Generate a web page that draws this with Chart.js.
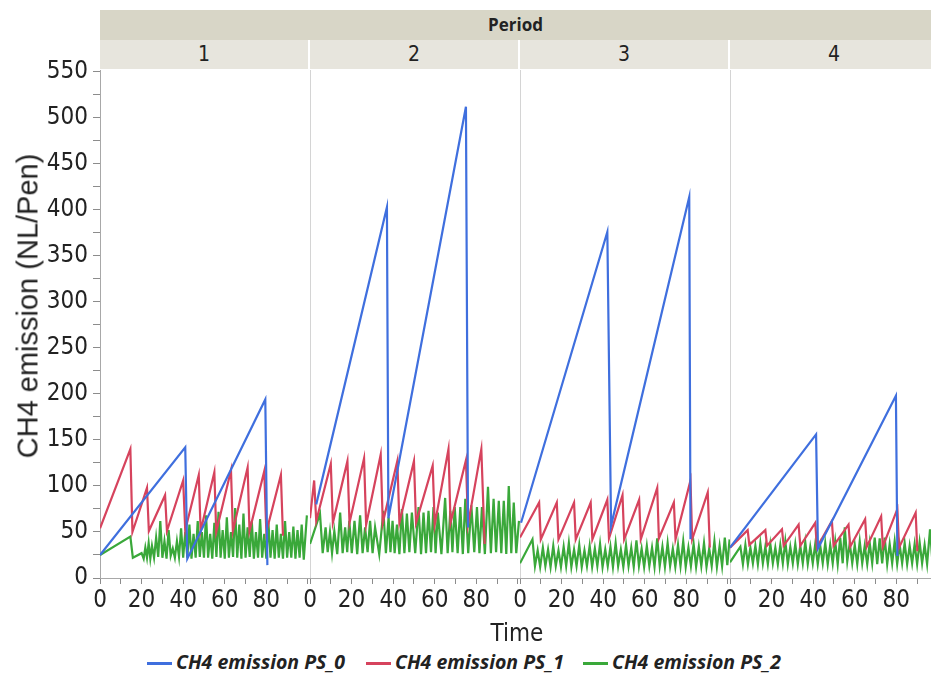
<!DOCTYPE html>
<html>
<head>
<meta charset="utf-8">
<script src="https://cdn.jsdelivr.net/npm/chart.js@4.4.0/dist/chart.umd.min.js"></script>
<style>
body { margin:0; background:#fff; }
#frame { position:relative; width:931px; height:680px; overflow:hidden; background:#fff;
  font-family:'Liberation Sans Narrow','DejaVu Sans Condensed','Liberation Sans',sans-serif; color:#222; }
canvas { position:absolute; top:40px; }
.band { position:absolute; text-align:center; }
#period { left:100px; top:10px; width:831px; height:30px; line-height:30px; background:#d8d6c7;
  font-family:'Open Sans',sans-serif; font-weight:bold; font-size:17px; color:#222; }
.cell { top:40px; height:29px; line-height:29px; width:208px; background:#e7e5dd; font-size:21px; border-right:2px solid #fff; }
.sep { position:absolute; top:70px; height:508px; width:1px; background:#d4d4d4; }
#ytitle { position:absolute; left:28px; top:306px; transform:translate(-50%,-50%) rotate(-90deg);
  white-space:nowrap; font-family:'Liberation Sans',sans-serif; font-size:29px; color:#222; }
#xtitle { position:absolute; left:517px; top:633px; transform:translate(-50%,-50%); font-size:24px; }
#legend span.item { position:absolute; top:650px; height:24px; line-height:24px; white-space:nowrap;
  font-family:'Open Sans',sans-serif; font-weight:bold; font-style:italic; font-size:19.5px; color:#222; }
#legend i { display:inline-block; width:25px; height:3px; vertical-align:middle; margin-right:4px; }
</style>
</head>
<body>
<div id="frame">
  <div id="period" class="band">Period</div>
  <div id="cells"></div>
  <div class="sep" style="left:310px"></div>
  <div class="sep" style="left:520px"></div>
  <div class="sep" style="left:730px"></div>
  <canvas id="p1" width="310" height="600" style="left:0px"></canvas>
  <canvas id="p2" width="225" height="600" style="left:295px"></canvas>
  <canvas id="p3" width="225" height="600" style="left:505px"></canvas>
  <canvas id="p4" width="225" height="600" style="left:715px"></canvas>
  <div id="ytitle">CH4 emission (NL/Pen)</div>
  <div id="xtitle">Time</div>
  <div id="legend"></div>
</div>
<script>
// panels and series
var periods = ['1', '2', '3', '4'];
var seriesNames = ['CH4 emission PS_0', 'CH4 emission PS_1', 'CH4 emission PS_2'];
var seriesColors = ['#3f6fde', '#d6435d', '#3aa83a'];
var yTickValues = [0,25,50,75,100,125,150,175,200,225,250,275,300,325,350,375,400,425,450,475,500,525,550];
var xTickValues = [0,10,20,30,40,50,60,70,80,90,100];

// [time, value] vertices, one array per period and series
var ps0_p1 = [[0,25],[41,142],[42,21],[79.5,194],[80.5,14]];
var ps1_p1 = [[0,54],[14.6,140],[15.6,50],[22.6,98],[23.5,51],[31.3,90],[32.2,51],[40,106],[41,52],[47.5,112],[48.4,51],
  [55,115],[55.9,50],[63,117],[63.9,51],[71,120],[71.9,51],[79,116],[80,50],[87,112],[88,46]];
var ps2_p1 = [[0,25],[14.6,45],[15.8,22],[20,27],[21,21],[21.8,33],[22.6,22],[23.4,38],[24.2,21],[25,35],[26,22],[27,44],
  [28,23],[29,62],[30,22],[31,40],[32,21],[33,52],[34,24],[35,32],[36,22],[37,40],[38,23],[39,54],[40,22],[41,50],[42,22],
  [43,58],[44,21],[45,48],[46,22],[47,62],[48,23],[49,50],[50,22],[51,68],[52,22],[53,48],[54,21],[55,60],[56,23],[57,72],
  [58,22],[59,52],[60,21],[61,66],[62,22],[63,50],[64,23],[65,76],[66,22],[67,58],[68,21],[69,70],[70,22],[71,55],[72,23],
  [73,62],[74,21],[75,50],[76,22],[77,64],[78,22],[79,48],[80,21],[81,60],[82,22],[83,52],[84,21],[85,58],[86,22],[87,48],
  [88,21],[89,62],[90,22],[91,50],[92,22],[93,56],[94,21],[95,52],[96,22],[97,58],[98,20],[99.5,68]];

var ps0_p2 = [[3,80],[37,403],[37.7,65],[75,512],[76,55]];
var ps1_p2 = [[0,65],[2,106],[3,62],[10,124],[11,60],[18,127],[19,60],[26,130],[27,58],[34,134],[35,60],[42,127],[43,60],
  [50,127],[51,60],[59,122],[60,58],[66.6,140],[67.6,60],[75,128],[76,58],[82.4,140],[84,37]];
var ps2_p2 = [[0,37],[4.8,70],[6.1,27],[7.5,55],[8.5,28],[9.6,50],[10.6,27],[11.7,51],[13.1,26],[14.5,71],[15.7,27],[16.9,55],
  [17.9,28],[18.9,62],[20.1,27],[21.4,62],[22.7,26],[24.1,68],[25.3,27],[26.5,55],[27.7,28],[28.9,62],[30.1,27],[31.3,55],
  [33.3,26],[35.3,73],[36.5,27],[37.8,66],[38.7,28],[39.7,62],[40.7,27],[41.8,58],[43,26],[44.2,75],[45.4,27],[46.6,70],
  [47.8,28],[49,71],[50.6,27],[52.2,77],[53.4,26],[54.6,71],[55.8,27],[57,73],[58.2,28],[59.4,77],[60.4,27],[61.5,71],
  [63.2,26],[65,87],[66.2,27],[67.5,73],[68.5,28],[69.6,77],[71,27],[72.3,77],[73.5,26],[74.7,86],[76.1,27],[77.6,79],
  [79,28],[80.3,77],[81.5,27],[82.7,77],[84.1,26],[85.6,99],[87,27],[88.3,86],[89.5,28],[90.8,84],[92,27],[93.2,84],
  [94.4,26],[95.6,100],[96.8,27],[98,82],[99.2,27],[100.5,62]];

var ps0_p3 = [[0.5,60],[42,376],[43.8,57],[81.4,414],[82,42]];
var ps1_p3 = [[0,44],[9.2,82],[10,42],[17.7,82],[18.5,42],[26,82],[26.8,42],[34,82],[34.8,42],[42,85],[42.8,43],[49.3,90],
  [50.1,42],[57.3,85],[58.1,42],[66,98],[66.8,43],[74,82],[74.8,42],[82,106],[82.8,42],[90.3,93],[91.3,33]];
var ps2_p3 = [[0,16],[6,42],[7.2,13],[8.5,30],[9.7,12],[11,33],[12.2,13],[13.5,31],[14.7,12],[16,35],[17.2,13],[18.5,30],
  [19.7,12],[21,34],[22.2,13],[23.5,38],[24.7,12],[26,31],[27.2,13],[28.5,36],[29.7,12],[31,30],[32.2,13],[33.5,35],
  [34.7,12],[36,32],[37.2,13],[38.5,37],[39.7,12],[41,31],[42.2,13],[43.5,34],[44.7,12],[46,38],[47.2,13],[48.5,31],
  [49.7,12],[51,36],[52.2,13],[53.5,33],[54.7,12],[56,41],[57.2,13],[58.5,32],[59.7,12],[61,35],[62.2,13],[63.5,33],
  [64.7,12],[66,43],[67.2,13],[68.5,34],[69.7,12],[71,38],[72.2,13],[73.5,32],[74.7,12],[76,36],[77.2,13],[78.5,40],
  [79.7,12],[81,33],[82.2,13],[83.5,37],[84.7,12],[86,34],[87.2,13],[88.5,38],[89.7,12],[91,32],[92.2,13],[93.5,40],
  [94.7,12],[96,35],[97.2,13],[98.5,44],[99.7,14],[100.8,42]];

var ps0_p4 = [[0,33],[41.4,156],[42.3,32],[79.8,198],[80.5,24]];
var ps1_p4 = [[0,33],[8.5,52],[9.3,36],[17,52],[17.8,35],[25,53],[25.8,35],[33,58],[33.8,35],[41,60],[41.8,33],[49,62],
  [49.8,35],[57,58],[57.8,34],[65,64],[65.8,34],[72.7,67],[73.5,34],[80.5,75],[81.3,33],[89.3,71],[90.1,29]];
var ps2_p4 = [[0,17],[5,34],[6.2,15],[7.4,36],[8.6,15],[9.8,33],[11,16],[12.2,35],[13.4,15],[14.6,38],[15.8,16],[17,34],
  [18.2,15],[19.4,37],[20.6,16],[21.8,33],[23,15],[24.2,36],[25.4,16],[26.6,40],[27.8,15],[29,34],[30.2,16],[31.4,37],
  [32.6,15],[33.8,35],[35,16],[36.2,39],[37.4,15],[38.6,34],[39.8,16],[41,37],[42.2,15],[43.4,35],[44.6,16],[45.8,38],
  [47,15],[48.2,36],[49.4,16],[50.6,40],[51.8,15],[53,44],[54.2,16],[55.2,55],[56.4,18],[57.6,38],[58.8,16],[60,36],
  [61.2,15],[62.4,40],[63.6,16],[64.8,35],[66,15],[67.2,38],[68.4,16],[69.6,44],[70.8,15],[72,43],[73.2,16],[74.4,44],
  [75.6,15],[76.8,37],[78,16],[79.2,40],[80.4,15],[81.6,36],[82.8,16],[84,38],[85.2,15],[86.4,35],[87.6,16],[88.8,37],
  [90,15],[91.2,39],[92.4,16],[93.6,36],[94.8,15],[96.2,53],[97.4,16],[98.6,40]];

var tickFont = "'Liberation Sans Narrow', 'DejaVu Sans Condensed', 'Liberation Sans', sans-serif";

function toPoints(pairs) {
    return pairs.map(function(p) { return {x: p[0], y: p[1]}; });
}

function makePanel(id, series, first) {
    var ctx = document.getElementById(id).getContext('2d');
    var datasets = series.map(function(s, i) {
        return {
            label: seriesNames[i],
            data: toPoints(s),
            borderColor: seriesColors[i],
            borderWidth: 2.2,
            pointRadius: 0,
            tension: 0,
            fill: false
        };
    });
    return new Chart(ctx, {
        type: 'line',
        data: { datasets: datasets },
        options: {
            responsive: false,
            animation: false,
            layout: { padding: { top: 30, left: first ? 0 : 15, right: 0, bottom: 0 } },
            plugins: { legend: { display: false }, tooltip: { enabled: false } },
            scales: {
                x: {
                    type: 'linear',
                    min: 0,
                    max: 101,
                    afterFit: function(s) { s.height = 62; },
                    afterBuildTicks: function(s) { s.ticks = xTickValues.map(function(v) { return {value: v}; }); },
                    border: { color: '#a8a8a8' },
                    grid: { drawOnChartArea: false, tickLength: 6, tickColor: '#8c8c8c' },
                    ticks: {
                        autoSkip: false,
                        maxRotation: 0,
                        padding: 2,
                        color: '#222',
                        font: { family: tickFont, size: 24 },
                        callback: function(v) { return (v % 20 === 0 && v < 100) ? v : ''; }
                    }
                },
                y: {
                    min: 0,
                    max: 552,
                    display: first,
                    afterFit: function(s) { if (first) { s.width = 100; } },
                    afterBuildTicks: function(s) { s.ticks = yTickValues.map(function(v) { return {value: v}; }); },
                    border: { color: '#a8a8a8' },
                    grid: { drawOnChartArea: false, tickLength: 7, tickColor: '#8c8c8c' },
                    ticks: {
                        autoSkip: false,
                        padding: 5,
                        color: '#222',
                        font: { family: tickFont, size: 24 },
                        callback: function(v) { return v % 50 === 0 ? v : ''; }
                    }
                }
            }
        }
    });
}

// header cells
var cells = document.getElementById('cells');
periods.forEach(function(p, i) {
    var d = document.createElement('div');
    d.className = 'band cell';
    d.style.left = (100 + i * 210) + 'px';
    d.textContent = p;
    cells.appendChild(d);
});

// legend
var legend = document.getElementById('legend');
var legendLeft = [147, 366, 583];
seriesNames.forEach(function(name, i) {
    var it = document.createElement('span');
    it.className = 'item';
    it.style.left = legendLeft[i] + 'px';
    it.innerHTML = '<i style="background:' + seriesColors[i] + '"></i>' + name;
    legend.appendChild(it);
});

makePanel('p1', [ps0_p1, ps1_p1, ps2_p1], true);
makePanel('p2', [ps0_p2, ps1_p2, ps2_p2], false);
makePanel('p3', [ps0_p3, ps1_p3, ps2_p3], false);
makePanel('p4', [ps0_p4, ps1_p4, ps2_p4], false);
</script>
</body>
</html>
